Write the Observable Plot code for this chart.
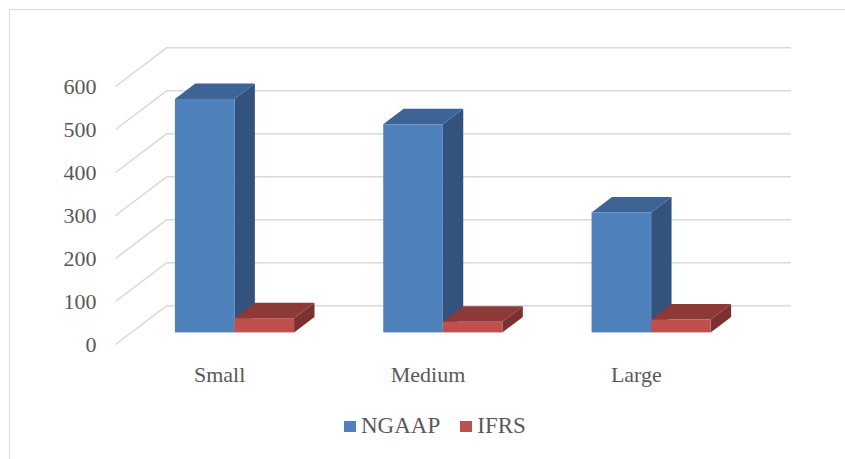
<!DOCTYPE html>
<html><head><meta charset="utf-8">
<script src="https://cdn.jsdelivr.net/npm/d3@7"></script>
<script src="https://cdn.jsdelivr.net/npm/@observablehq/plot@0.6"></script>
<style>
body{margin:0;background:#fff;}
#wrap{position:relative;width:845px;height:459px;overflow:hidden;background:#fff;}
#frame{position:absolute;left:9px;top:9px;width:900px;height:500px;border-left:1.5px solid #d9d9d9;border-top:1.5px solid #d9d9d9;}
#chart{position:absolute;left:0;top:0;}
#legend{position:absolute;left:344px;top:413px;font-family:"Liberation Serif","Times New Roman",Tinos,"DejaVu Serif",serif;font-size:23px;color:#595959;display:flex;align-items:center;white-space:nowrap;}
.sw{width:12px;height:11px;display:inline-block;margin-right:5px;}
svg text{font-family:"Liberation Serif","Times New Roman",Tinos,"DejaVu Serif",serif !important;}
</style></head>
<body>
<div id="wrap"><div id="frame"></div><div id="chart"></div><div id="legend"></div></div>
<script>
// ---- data ----
const categories = ["Small", "Medium", "Large"];
const ngaap = [543, 484, 279];
const ifrs = [33, 25, 30];
const seriesNames = ["NGAAP", "IFRS"];
const yTicks = [0, 100, 200, 300, 400, 500, 600];

// ---- styles ----
const faceColors = [
  {front: "#4F81BD", top: "#3D6494", side: "#34527E"},
  {front: "#C0504D", top: "#8D3937", side: "#7C302F"}
];
const legendColors = ["#4F81BD", "#C0504D"];
const grid = "#d9d9d9";
const serif = '"Liberation Serif", "Times New Roman", Tinos, "DejaVu Serif", serif';

// 3D projection offsets (depth direction) expressed in data units
const DX = 0.245, DY = 90;
const Z0 = 0.3, Z1 = 0.7;
const GAP = 0.214, BW = 0.286;

const series = [ngaap, ifrs];
const bars = [];
categories.forEach((c, i) => {
  series.forEach((vals, s) => {
    const xl = i + GAP + s * BW;
    bars.push({id: `${c}-${s}`, s, v: vals[i], xl, xr: xl + BW});
  });
});

const sidePts = bars.flatMap(b => [Z0, Z1].map(z => ({id: b.id, s: b.s, x: b.xr + z * DX, y1: z * DY, y2: b.v + z * DY})));
const topPts = bars.flatMap(b => [Z0, Z1].map(z => ({id: b.id, s: b.s, y: b.v + z * DY, x1: b.xl + z * DX, x2: b.xr + z * DX})));

const barMarks = [0, 1].flatMap(s => [
  Plot.areaY(sidePts.filter(d => d.s === s), {x: "x", y1: "y1", y2: "y2", z: "id", fill: faceColors[s].side}),
  Plot.areaX(topPts.filter(d => d.s === s), {y: "y", x1: "x1", x2: "x2", z: "id", fill: faceColors[s].top}),
  Plot.rect(bars.filter(d => d.s === s), {x1: d => d.xl + Z0 * DX, x2: d => d.xr + Z0 * DX, y1: Z0 * DY, y2: d => d.v + Z0 * DY, fill: faceColors[s].front})
]);

const chart = Plot.plot({
  width: 845,
  height: 400,
  marginLeft: 115,
  marginRight: 105,
  marginTop: 43,
  marginBottom: 56,
  style: {fontFamily: serif, fontSize: "22px", color: "#595959", background: "transparent"},
  x: {domain: [0, 3], label: null},
  y: {domain: [0, 700], label: null},
  marks: [
    Plot.ruleY(yTicks, {y: d => d + DY, x1: DX, x2: 3 + DX, stroke: grid, strokeWidth: 1.5}),
    Plot.link(yTicks, {x1: 0, y1: d => d, x2: DX, y2: d => d + DY, stroke: grid, strokeWidth: 1.5}),
    ...barMarks,
    Plot.axisY(yTicks, {tickSize: 0, tickPadding: 19, fontSize: 22, label: null}),
    Plot.axisX(categories.map((c, i) => i + 0.5), {tickSize: 0, tickPadding: 22, fontSize: 22, label: null, tickFormat: d => categories[Math.floor(d)]})
  ]
});
document.getElementById("chart").appendChild(chart);

const legend = document.getElementById("legend");
seriesNames.forEach((n, i) => {
  const item = document.createElement("span");
  item.style.display = "inline-flex";
  item.style.alignItems = "center";
  item.style.marginRight = i === 0 ? "20px" : "0";
  item.innerHTML = `<span class="sw" style="background:${legendColors[i]}"></span>${n}`;
  legend.appendChild(item);
});
</script>
</body></html>
